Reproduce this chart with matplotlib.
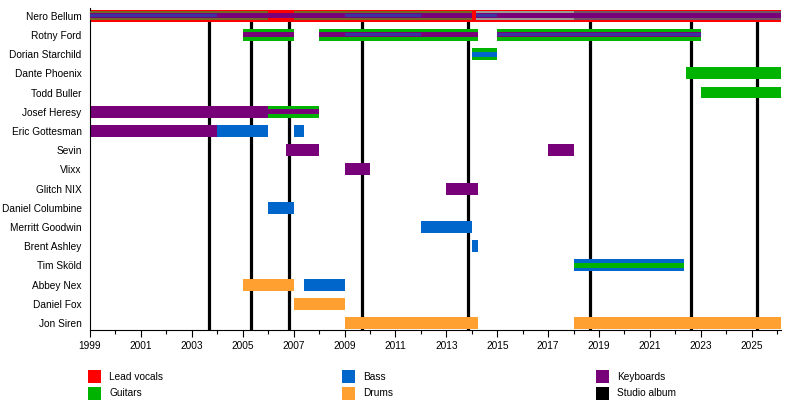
import matplotlib
matplotlib.use("Agg")
import matplotlib.pyplot as plt
from matplotlib.patches import Rectangle

END = 2026.15

members = ["Nero Bellum", "Rotny Ford", "Dorian Starchild", "Dante Phoenix", "Todd Buller",
           "Josef Heresy", "Eric Gottesman", "Sevin", "Vlixx", "Glitch NIX",
           "Daniel Columbine", "Merritt Goodwin", "Brent Ashley", "Tim Sköld",
           "Abbey Nex", "Daniel Fox", "Jon Siren"]

# segments: member, start, end, roles from outer to inner ("_" = skipped layer)
seg_member = ["Nero Bellum"] * 10 + ["Rotny Ford"] * 5 + ["Dorian Starchild", "Dante Phoenix", "Todd Buller",
              "Josef Heresy", "Josef Heresy", "Eric Gottesman", "Eric Gottesman", "Eric Gottesman",
              "Sevin", "Sevin", "Vlixx", "Glitch NIX", "Daniel Columbine", "Merritt Goodwin",
              "Brent Ashley", "Tim Sköld", "Abbey Nex", "Abbey Nex", "Daniel Fox", "Jon Siren", "Jon Siren"]
seg_start = [1999, 2004, 2006, 2007, 2009, 2012, 2014, 2014.15, 2015, 2018,
             2005, 2008, 2009, 2012, 2015,
             2014, 2022.4, 2023,
             1999, 2006, 1999, 2004, 2007,
             2006.7, 2017, 2009, 2013, 2006, 2012,
             2014, 2018, 2005, 2007.4, 2007, 2009, 2018]
seg_end = [2004, 2006, 2007, 2009, 2012, 2014, 2014.15, 2015, 2018, END,
           2007, 2009, 2012, 2014.25, 2023,
           2015, END, END,
           2006, 2008, 2004, 2006, 2007.42,
           2008, 2018, 2010, 2014.25, 2007, 2014,
           2014.25, 2022.33, 2007, 2009, 2009, 2014.25, END]
seg_roles = ["VoKB", "VoK", "V_K", "VoK", "VoKB", "VoK", "V", "VpKB", "VpK", "VqK",
             "G_K", "G_K", "G_KB", "G_K", "G_KB",
             "G_B", "G", "G",
             "K", "G_K", "K", "B", "B",
             "K", "K", "K", "K", "B", "B",
             "B", "B_G", "D", "B", "D", "D", "D"]

albums = [2003.69, 2005.31, 2006.80, 2009.67, 2013.85, 2018.64, 2022.6, 2025.2]

legend_labels = ["Lead vocals", "Guitars", "Bass", "Drums", "Keyboards", "Studio album"]
legend_keys = ["V", "G", "B", "D", "K", "A"]

colors = {"V": "#ff0000", "G": "#00b300", "B": "#0066cc", "D": "#ffa030",
          "K": "#780078", "A": "#000000",
          "o": "#6e6a26", "p": "#9a9c92", "q": "#6e5268"}
layer_h = [0.62, 0.46, 0.26, 0.16]
layer_alpha = [1.0, 1.0, 1.0, 0.5]

fig = plt.figure(figsize=(8, 4.08), dpi=100)
plt.rcParams['font.family'] = ['Liberation Sans', 'DejaVu Sans']
ax = fig.add_axes([90 / 800, 1 - 330 / 408, (781 - 90) / 800, (330 - 8) / 408])

ax.set_xlim(1999, END)
ax.set_ylim(16.36, -0.40)
ybot, _ = ax.get_ylim()
ax.vlines(albums, ybot, 0, color="black", lw=2.3, zorder=1)

for m, s, e, roles in zip(seg_member, seg_start, seg_end, seg_roles):
    y = members.index(m)
    for i, r in enumerate(roles):
        if r == "_":
            continue
        h = layer_h[i]
        ax.add_patch(Rectangle((s, y - h / 2), e - s, h, facecolor=colors[r],
                               alpha=layer_alpha[i], edgecolor="none", zorder=2 + i))

ax.set_yticks(range(len(members)))
ax.set_yticklabels(members, fontsize=7.3)
ax.tick_params(axis="y", length=0, pad=6)
ax.set_xticks(range(1999, 2026, 2))
ax.set_xticks(range(1999, 2027), minor=True)
ax.tick_params(axis="x", which="major", length=5, width=0.8, labelsize=7.3, pad=3)
ax.tick_params(axis="x", which="minor", length=3, width=0.8)
for sp in ["top", "right"]:
    ax.spines[sp].set_visible(False)
ax.spines["left"].set_linewidth(0.8)
ax.spines["bottom"].set_linewidth(0.8)

# legend
col_x = [88, 342, 596]
row_y = [376.5, 393.5]
for k, (lab, key) in enumerate(zip(legend_labels, legend_keys)):
    c, r = k // 2, k % 2
    sx, sy = col_x[c], row_y[r]
    fig.patches.append(Rectangle((sx / 800, 1 - (sy + 6.5) / 408), 13 / 800, 13 / 408,
                                 transform=fig.transFigure, facecolor=colors[key], edgecolor="none"))
    fig.text((sx + 21) / 800, 1 - sy / 408, lab, fontsize=7.3, va="center", ha="left")

fig.savefig("out.png", dpi=100)
